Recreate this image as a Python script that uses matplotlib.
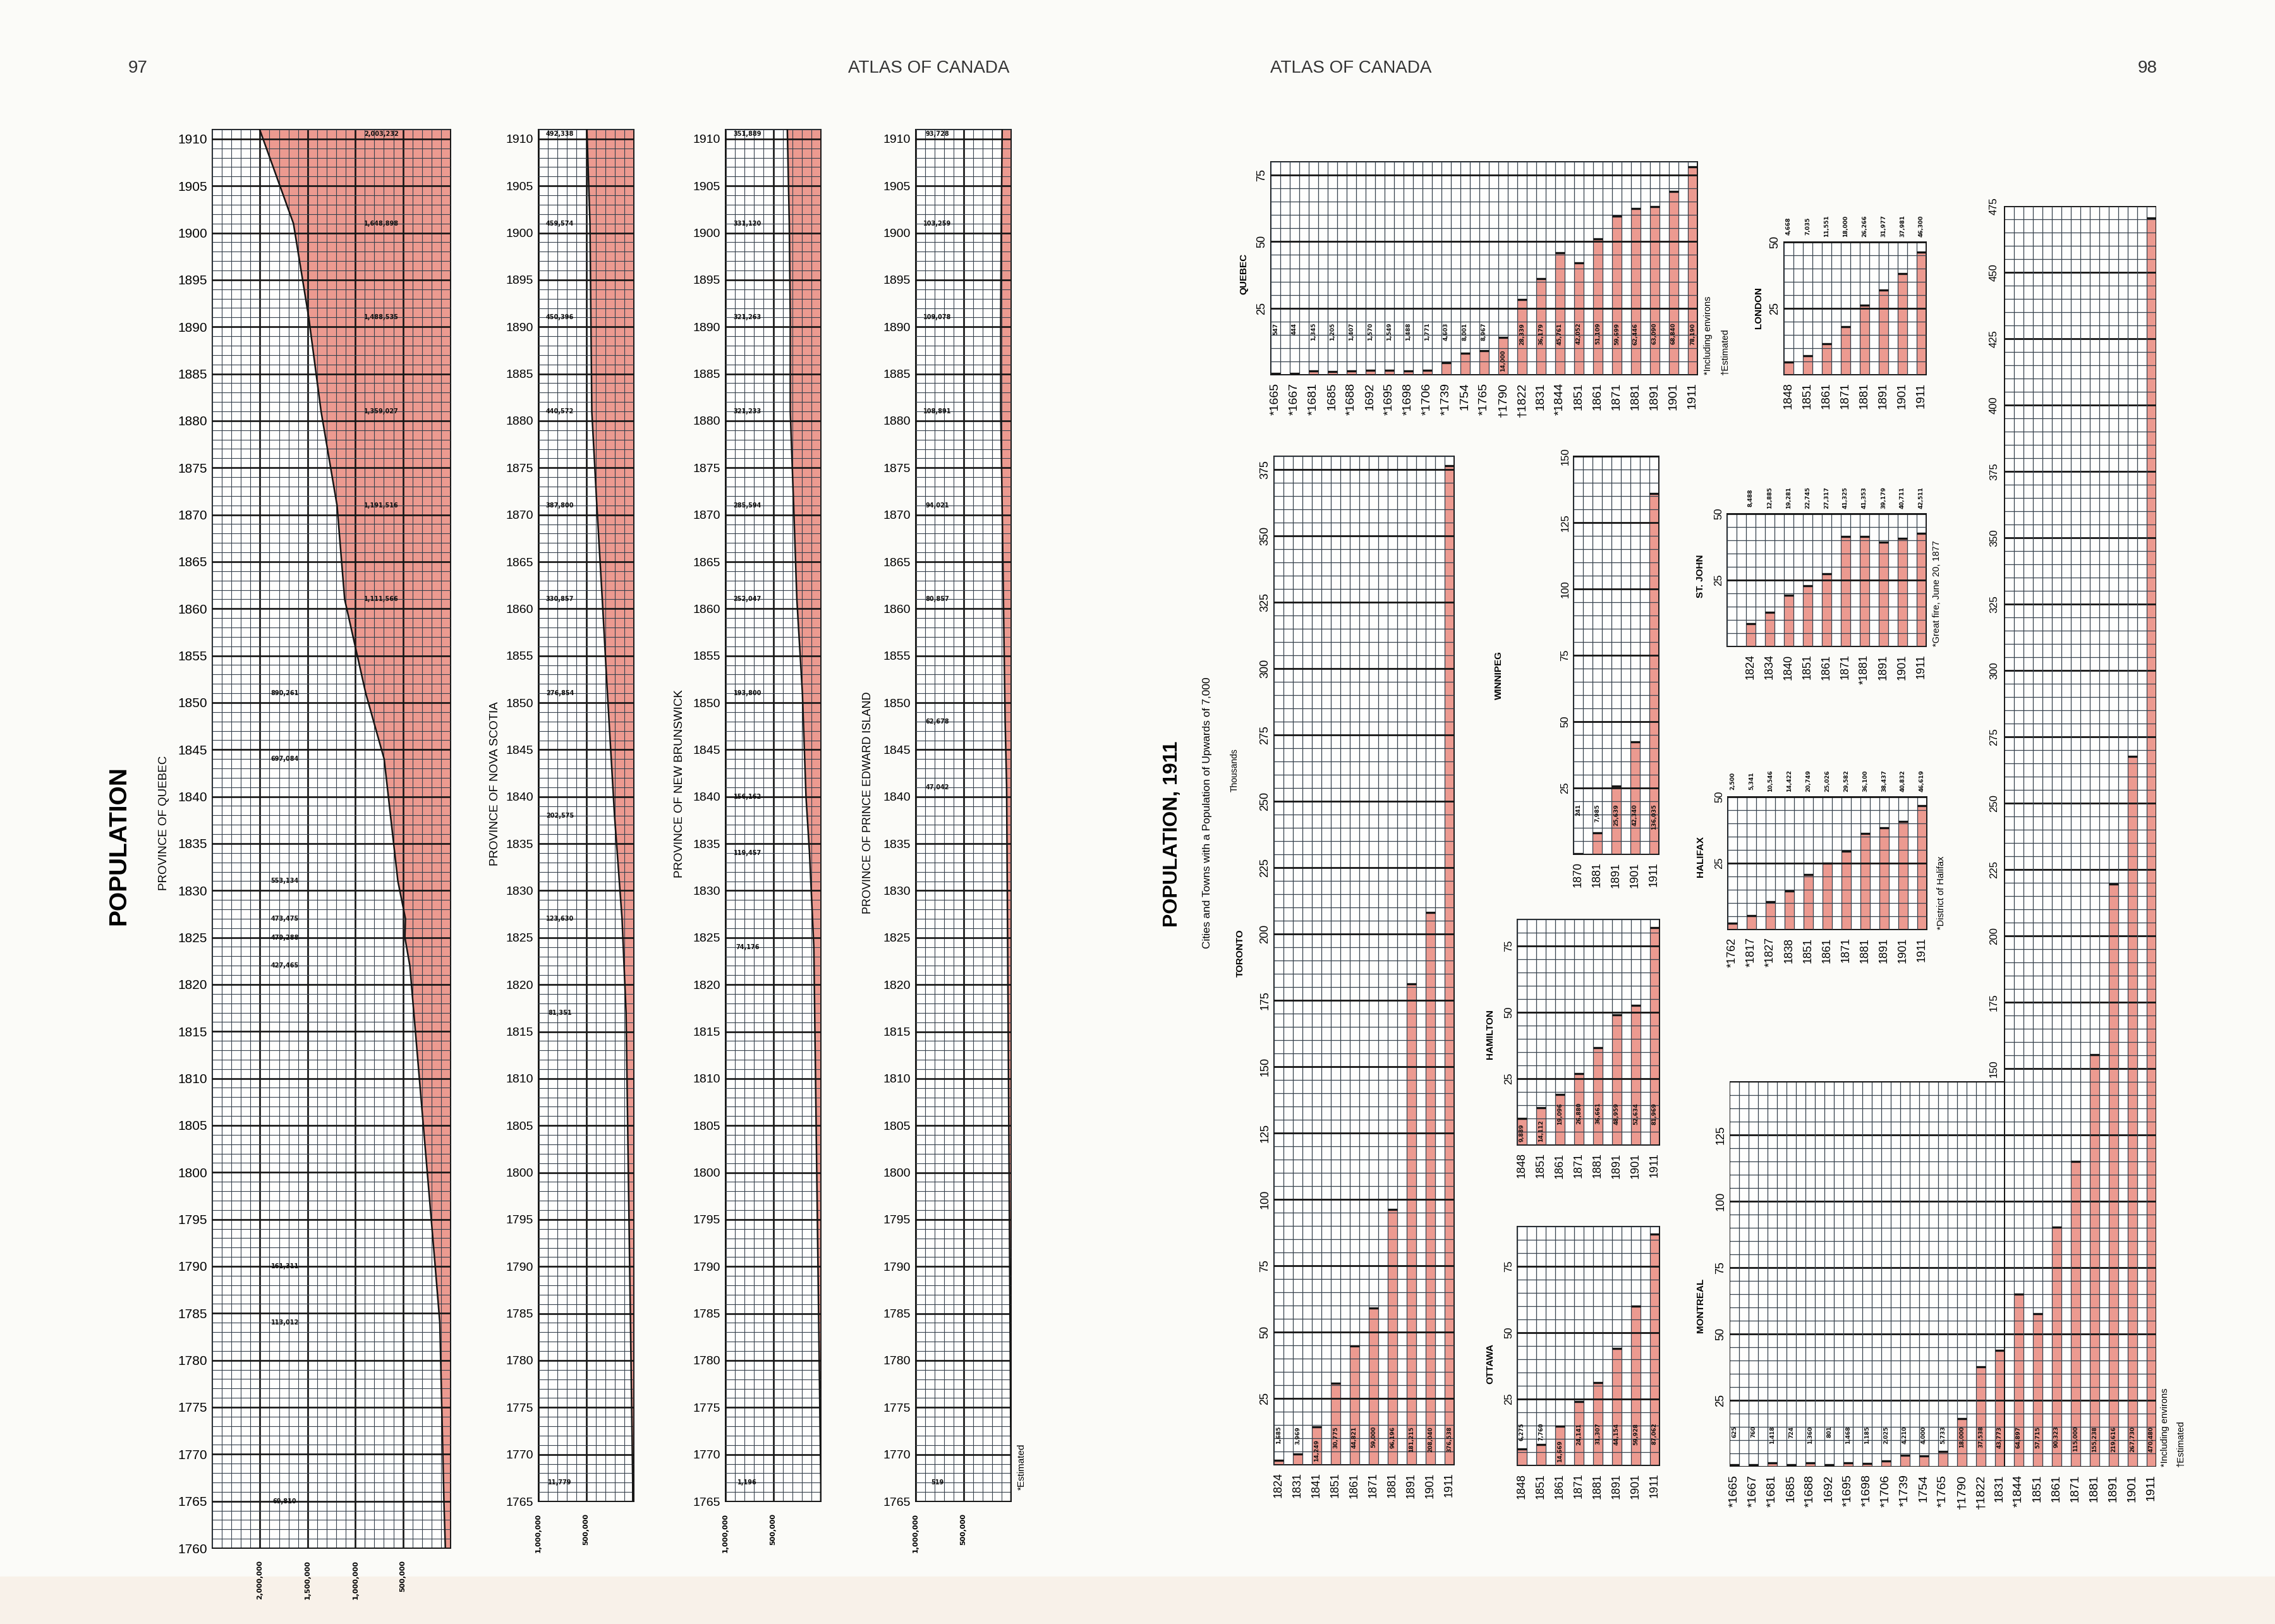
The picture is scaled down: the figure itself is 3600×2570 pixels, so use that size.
import matplotlib
matplotlib.use('Agg')
import matplotlib.pyplot as plt
from matplotlib.ticker import MultipleLocator, FixedLocator
from matplotlib.patches import Rectangle
from matplotlib import font_manager
import numpy as np

# ---------------- DATA ----------------
# Provinces (census years and population)
quebec_prov_years = [1765, 1784, 1790, 1822, 1825, 1827, 1831, 1844, 1851, 1861, 1871, 1881, 1891, 1901, 1911]
quebec_prov_pop = [69810, 113012, 161311, 427465, 479288, 473475, 553134, 697084, 890261,
                   1111566, 1191516, 1359027, 1488535, 1648898, 2003232]
quebec_prov_start = (1760, 55000)
quebec_prov_xticks = [500000, 1000000, 1500000, 2000000]

ns_years = [1767, 1817, 1827, 1838, 1851, 1861, 1871, 1881, 1891, 1901, 1911]
ns_pop = [11779, 81351, 123630, 202575, 276854, 330857, 387800, 440572, 450396, 459574, 492338]
ns_start = (1765, 11000)

nb_years = [1767, 1824, 1834, 1840, 1851, 1861, 1871, 1881, 1891, 1901, 1911]
nb_pop = [1196, 74176, 119457, 156162, 193800, 252047, 285594, 321233, 321263, 331120, 351889]
nb_start = (1765, 1100)

pei_years = [1767, 1841, 1848, 1861, 1871, 1881, 1891, 1901, 1911]
pei_pop = [519, 47042, 62678, 80857, 94021, 108891, 109078, 103259, 93728]
pei_start = (1765, 500)

small_prov_xticks = [500000, 1000000]

# Cities
quebec_years = ['*1665', '*1667', '*1681', '1685', '*1688', '1692', '*1695', '*1698', '*1706', '*1739',
                '1754', '*1765', '†1790', '†1822', '1831', '*1844', '1851', '1861', '1871', '1881',
                '1891', '1901', '1911']
quebec_pop = [547, 444, 1345, 1205, 1407, 1570, 1549, 1488, 1771, 4603, 8001, 8967, 14000, 28339,
              36179, 45761, 42052, 51109, 59699, 62446, 63090, 68840, 78190]

montreal_years = ['*1665', '*1667', '*1681', '1685', '*1688', '1692', '*1695', '*1698', '*1706', '*1739',
                  '1754', '*1765', '†1790', '†1822', '1831', '*1844', '1851', '1861', '1871', '1881',
                  '1891', '1901', '1911']
montreal_pop = [625, 760, 1418, 724, 1360, 801, 1468, 1185, 2025, 4210, 4000, 5733, 18000, 37538,
                43773, 64897, 57715, 90323, 115000, 155238, 219616, 267730, 470480]

toronto_years = ['1824', '1831', '1841', '1851', '1861', '1871', '1881', '1891', '1901', '1911']
toronto_pop = [1685, 3969, 14249, 30775, 44821, 59000, 96196, 181215, 208040, 376538]

london_years = ['1848', '1851', '1861', '1871', '1881', '1891', '1901', '1911']
london_pop = [4668, 7035, 11551, 18000, 26266, 31977, 37981, 46300]

winnipeg_years = ['1870', '1881', '1891', '1901', '1911']
winnipeg_pop = [241, 7985, 25639, 42340, 136035]

stjohn_years = ['1824', '1834', '1840', '1851', '1861', '1871', '*1881', '1891', '1901', '1911']
stjohn_pop = [8488, 12885, 19281, 22745, 27317, 41325, 41353, 39179, 40711, 42511]

halifax_years = ['*1762', '*1817', '*1827', '1838', '1851', '1861', '1871', '1881', '1891', '1901', '1911']
halifax_pop = [2500, 5341, 10546, 14422, 20749, 25026, 29582, 36100, 38437, 40832, 46619]

hamilton_years = ['1848', '1851', '1861', '1871', '1881', '1891', '1901', '1911']
hamilton_pop = [9889, 14112, 19096, 26880, 36661, 48959, 52634, 81969]

ottawa_years = ['1848', '1851', '1861', '1871', '1881', '1891', '1901', '1911']
ottawa_pop = [6275, 7760, 14669, 24141, 31307, 44154, 59928, 87062]

# ---------------- STYLE ----------------
W, H, DPI = 3600, 2570, 100
avail = {f.name for f in font_manager.fontManager.ttflist}
SANS = 'Liberation Sans' if 'Liberation Sans' in avail else 'DejaVu Sans'
NARROW = 'Liberation Sans Narrow' if 'Liberation Sans Narrow' in avail else SANS
plt.rcParams['font.family'] = [SANS, 'DejaVu Sans']
RED = '#ec9a90'
INK = '#151515'
GRID = '#36414d'
PAPER = '#fbfbf8'
PLOTBG = '#fefefd'

fig = plt.figure(figsize=(W / DPI, H / DPI), dpi=DPI, facecolor=PAPER)
fig.patches.append(Rectangle((0, 0), 1, 75 / H, transform=fig.transFigure,
                             color='#f8f1e9', zorder=-10))


def add_ax(x0, y0, x1, y1, face=PLOTBG):
    ax = fig.add_axes([x0 / W, 1 - y1 / H, (x1 - x0) / W, (y1 - y0) / H])
    ax.set_facecolor(face)
    return ax


def ftext(x, y, s, **kw):
    fig.text(x / W, 1 - y / H, s, **kw)


# ---------------- PROVINCE PANELS ----------------
def province_panel(rect, years, pops, start, xmax, xticks, ymin, label_x, year_font, year_fs):
    ax = add_ax(*rect)
    ys = [start[0]] + list(years)
    xs = [start[1]] + list(pops)
    ax.fill_betweenx(ys, 0, xs, color=RED, lw=0, zorder=1)
    ax.plot(xs, ys, color=INK, lw=1.8, zorder=4)
    ax.set_xlim(xmax, 0)
    ax.set_ylim(ymin, 1911)
    ax.xaxis.set_major_locator(FixedLocator(xticks))
    ax.set_xticklabels([f'{int(v):,}' for v in xticks], rotation=90, fontsize=8,
                       family='DejaVu Sans', weight='bold')
    ax.xaxis.set_minor_locator(MultipleLocator(100000))
    yt = np.arange(ymin, 1911, 5)
    ax.yaxis.set_major_locator(FixedLocator(yt))
    ax.set_yticklabels([str(v) for v in yt], fontsize=year_fs, family=year_font)
    ax.yaxis.set_minor_locator(MultipleLocator(1))
    ax.tick_params(which='both', length=0)
    ax.tick_params(axis='y', pad=6)
    ax.tick_params(axis='x', pad=14)
    ax.set_axisbelow(False)
    ax.grid(True, which='minor', color=GRID, lw=0.8)
    ax.grid(True, which='major', color=INK, lw=1.9)
    for sp in ax.spines.values():
        sp.set_color(INK)
        sp.set_linewidth(1.4)
    for yr, p in zip(years, pops):
        ax.text(label_x(p), min(yr, 1910.55), f'{p:,}', ha='center', va='center',
                fontsize=7, weight='bold', family='DejaVu Sans', color='#111', zorder=6)
    return ax


province_panel((336, 205, 713, 2450), quebec_prov_years, quebec_prov_pop, quebec_prov_start,
               2500000, quebec_prov_xticks, 1760,
               lambda p: 727000 if p >= 1000000 else 1740000, SANS, 15)
province_panel((852, 205, 1003, 2376), ns_years, ns_pop, ns_start, 1000000, small_prov_xticks,
               1765, lambda p: 775000, NARROW, 14)
province_panel((1148, 205, 1299, 2376), nb_years, nb_pop, nb_start, 1000000, small_prov_xticks,
               1765, lambda p: 770000, NARROW, 14)
province_panel((1449, 205, 1600, 2376), pei_years, pei_pop, pei_start, 1000000, small_prov_xticks,
               1765, lambda p: 775000, NARROW, 14)


# ---------------- CITY CHARTS ----------------
def city_chart(rect, years, values, ymax, label_mode, band_top=None, above_y=None,
               first_col=0, year_font=SANS, year_fs=13.5, ytick_font=SANS, ytick_fs=13,
               yticks=None, custom_grid=False):
    ax = add_ax(*rect, face='none' if custom_grid else PLOTBG)
    n = len(values)
    centers = first_col + 2 * np.arange(n) + 0.5
    ncols = first_col + 2 * n - 1
    vk = np.asarray(values) / 1000.0
    ax.bar(centers, vk, width=1.0, color=RED, linewidth=0, zorder=1)
    ax.hlines(vk, centers - 0.5, centers + 0.5, colors=INK, linewidth=2.4, zorder=4)
    ax.set_xlim(0, ncols)
    ax.set_ylim(0, ymax)
    ax.set_xticks(centers)
    ax.set_xticklabels(years, rotation=90, fontsize=year_fs, family=[year_font, 'DejaVu Sans'])
    ax.xaxis.set_minor_locator(MultipleLocator(1))
    if yticks is None:
        yticks = np.arange(25, ymax + 0.01, 25)
    ax.set_yticks(yticks)
    ax.set_yticklabels([str(int(v)) for v in yticks], rotation=90, va='center',
                       fontsize=ytick_fs, family=ytick_font)
    ax.yaxis.set_minor_locator(MultipleLocator(5))
    ax.tick_params(which='both', length=0)
    ax.tick_params(axis='x', pad=9)
    ax.tick_params(axis='y', pad=4)
    ax.set_axisbelow(False)
    if not custom_grid:
        ax.xaxis.grid(True, which='minor', color=GRID, lw=0.9)
        ax.yaxis.grid(True, which='minor', color=GRID, lw=0.9)
        ax.yaxis.grid(True, which='major', color=INK, lw=2.0)
        for sp in ax.spines.values():
            sp.set_color(INK)
            sp.set_linewidth(1.4)
    else:
        for sp in ax.spines.values():
            sp.set_visible(False)
    fs = 6.5
    for c, v, raw in zip(centers, vk, values):
        s = f'{raw:,}'
        kw = dict(rotation=90, ha='center', fontsize=fs, weight='bold',
                  family='DejaVu Sans', color='#111', zorder=6, clip_on=False)
        if label_mode == 'above':
            ax.text(c, above_y, s, va='center', **kw)
        else:
            L = len(s) * 1.45
            if v >= band_top or v <= band_top - L:
                ax.text(c, band_top, s, va='top', **kw)
            else:
                ax.text(c, 1.2, s, va='bottom', **kw)
    return ax, ncols


city_chart((2011, 256, 2686, 593), quebec_years, quebec_pop, 80, 'band', band_top=19.5,
           year_fs=14)
city_chart((2823, 383, 3048, 593), london_years, london_pop, 50, 'above', above_y=56,
           year_fs=13.5)
city_chart((2016, 722, 2301, 2318), toronto_years, toronto_pop, 380, 'band', band_top=14.5,
           year_fs=13)
city_chart((2490, 722, 2625, 1352), winnipeg_years, winnipeg_pop, 150, 'band', band_top=19.0,
           year_font=NARROW, year_fs=13, ytick_font=NARROW, ytick_fs=12)
city_chart((2733, 813, 3048, 1023), stjohn_years, stjohn_pop, 50, 'above', above_y=56,
           first_col=2, year_font=NARROW, year_fs=13, ytick_font=NARROW, ytick_fs=12)
city_chart((2734, 1261, 3049, 1471), halifax_years, halifax_pop, 50, 'above', above_y=56,
           year_font=NARROW, year_fs=13, ytick_font=NARROW, ytick_fs=12)
city_chart((2401, 1455, 2626, 1812), hamilton_years, hamilton_pop, 85, 'band', band_top=16,
           year_font=NARROW, year_fs=13, ytick_font=NARROW, ytick_fs=12)
city_chart((2401, 1941, 2626, 2319), ottawa_years, ottawa_pop, 90, 'band', band_top=16,
           year_font=NARROW, year_fs=13, ytick_font=NARROW, ytick_fs=12)

# Montreal: L-shaped grid (transparent axes so the neighbouring charts stay visible)
mt_ax, mt_cols = city_chart((2737, 326, 3412, 2321), montreal_years, montreal_pop, 475, 'band',
                            band_top=15.3, year_fs=14, yticks=[25, 50, 75, 100, 125],
                            custom_grid=True)
LOW_TOP = 145      # top of the lower, full-width grid block
UP_COL = 29        # first column of the tall grid block
mt_ax.add_patch(Rectangle((0, 0), mt_cols, LOW_TOP, facecolor=PLOTBG, lw=0, zorder=0))
mt_ax.add_patch(Rectangle((UP_COL, LOW_TOP), mt_cols - UP_COL, 475 - LOW_TOP,
                          facecolor=PLOTBG, lw=0, zorder=0))
for yv in np.arange(5, 476, 5):
    x0 = 0 if yv <= LOW_TOP else UP_COL
    major = (yv % 25 == 0)
    mt_ax.hlines(yv, x0, mt_cols, colors=INK if major else GRID, lw=2.0 if major else 0.9, zorder=3)
for c in range(0, mt_cols + 1):
    top = LOW_TOP if c < UP_COL else 475
    edge = c in (0, mt_cols, UP_COL)
    mt_ax.vlines(c, 0, top, colors=INK if edge else GRID, lw=1.4 if edge else 0.9, zorder=3)
mt_ax.hlines([0, LOW_TOP], 0, UP_COL, colors=INK, lw=1.4, zorder=3)
mt_ax.hlines([0, 475], UP_COL, mt_cols, colors=INK, lw=1.4, zorder=3)
for yv in np.arange(150, 476, 25):
    mt_ax.text(UP_COL - 0.6, yv, str(int(yv)), rotation=90, ha='right', va='center',
               fontsize=12, family=NARROW)

# ---------------- TEXTS ----------------
hdr = dict(fontsize=20, color='#333333', ha='center', va='center', family=SANS)
ftext(218, 108, '97', **hdr)
ftext(1470, 108, 'ATLAS OF CANADA', **hdr)
ftext(2138, 108, 'ATLAS OF CANADA', **hdr)
ftext(3398, 108, '98', **hdr)

rot = dict(rotation=90, ha='center', va='center')
ftext(188, 1338, 'POPULATION', fontsize=28, weight='bold', family=SANS, **rot)
ftext(259, 1302, 'PROVINCE OF QUEBEC', fontsize=13.5, family=SANS, **rot)
ftext(783, 1240, 'PROVINCE OF NOVA SCOTIA', fontsize=13.5, family=SANS, **rot)
ftext(1075, 1240, 'PROVINCE OF NEW BRUNSWICK', fontsize=13.5, family=SANS, **rot)
ftext(1373, 1270, 'PROVINCE OF PRINCE EDWARD ISLAND', fontsize=13, family=SANS, **rot)
ftext(1617, 2358, '*Estimated', rotation=90, ha='center', va='bottom', fontsize=11, family=SANS)

ftext(1855, 1320, 'POPULATION, 1911', fontsize=23, weight='bold', family=SANS, **rot)
ftext(1910, 1286, 'Cities and Towns with a Population of Upwards of 7,000', fontsize=12.5,
      family=NARROW, **rot)
ftext(1954, 1219, 'Thousands', fontsize=10, family=NARROW, **rot)

city_lbl = dict(fontsize=11, weight='bold', family=NARROW, **rot)
ftext(1968, 433, 'QUEBEC', **city_lbl)
ftext(2783, 487, 'LONDON', **city_lbl)
ftext(1963, 1508, 'TORONTO', **city_lbl)
ftext(2372, 1068, 'WINNIPEG', **city_lbl)
ftext(2691, 912, 'ST. JOHN', **city_lbl)
ftext(2691, 1355, 'HALIFAX', **city_lbl)
ftext(2358, 1637, 'HAMILTON', **city_lbl)
ftext(2358, 2158, 'OTTAWA', **city_lbl)
ftext(2691, 2066, 'MONTREAL', **city_lbl)

note = dict(rotation=90, ha='center', va='bottom', fontsize=10.5, family=[SANS, 'DejaVu Sans'])
ftext(2703, 593, '*Including environs', **note)
ftext(2730, 593, '†Estimated', **note)
ftext(3426, 2321, '*Including environs', **note)
ftext(3451, 2321, '†Estimated', **note)
ftext(3065, 1023, '*Great fire, June 20, 1877', **note)
ftext(3072, 1471, '*District of Halifax', **note)

fig.savefig('out.png', dpi=DPI, facecolor=PAPER)
